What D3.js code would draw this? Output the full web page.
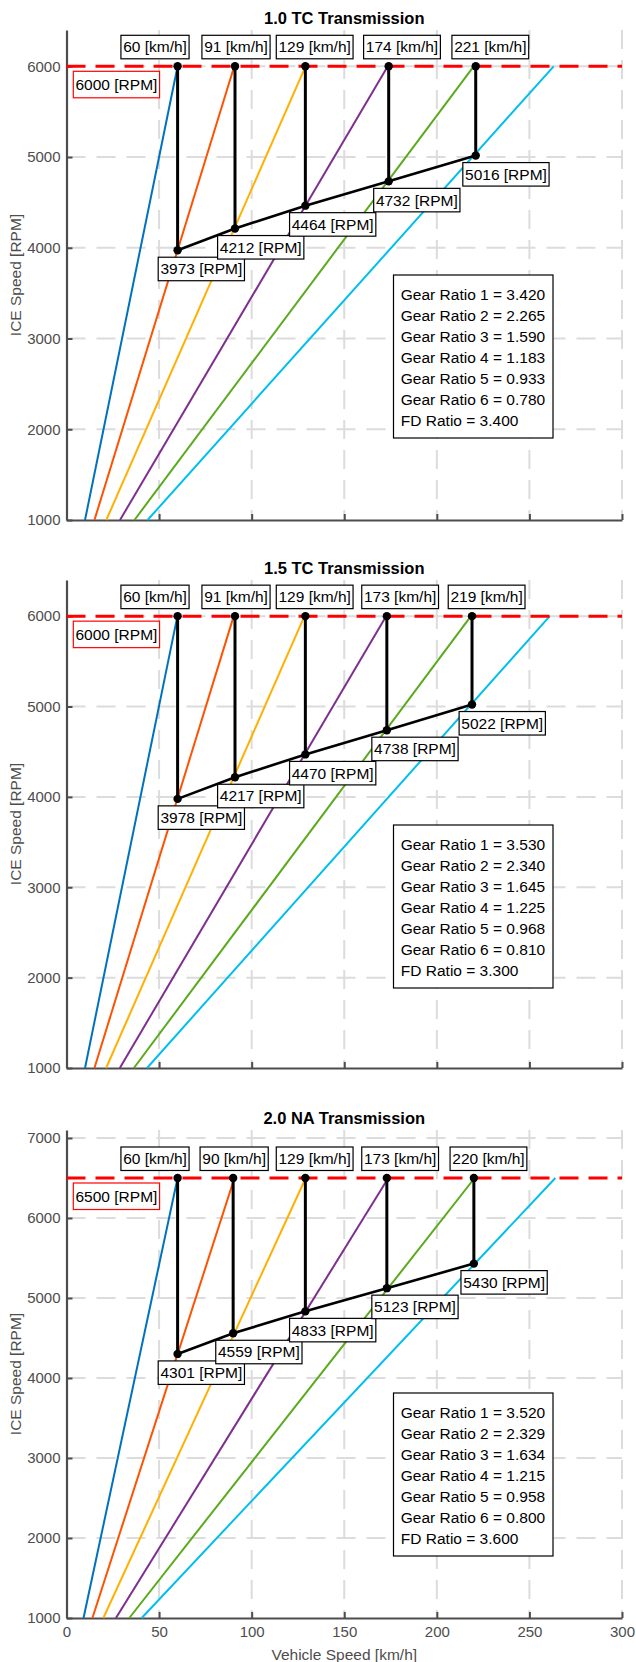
<!DOCTYPE html>
<html>
<head>
<meta charset="utf-8">
<script src="https://cdn.jsdelivr.net/npm/d3@7"></script>
<style>
  body { margin: 0; background: #fff; }
  svg { display: block; }
  text { font-family: "Liberation Sans", Arial, Helvetica, sans-serif; }
</style>
</head>
<body>
<script>
// ---- data ----
var speedTicks = [0, 50, 100, 150, 200, 250, 300];
var gearColors = ["#0072BD", "#FF5200", "#FFB000", "#7E2F8E", "#5AAA1C", "#00BFEE"];

// 1.0 TC
var tc10Start = [10.0, 15.1, 21.5, 28.9, 36.7, 43.8];     // km/h at 1000 rpm
var tc10End = [60.0, 90.6, 129.1, 173.5, 219.9, 263.1];   // km/h at max rpm
var tc10Shift = [60, 91, 129, 174, 221];
var tc10Drop = [3973, 4212, 4464, 4732, 5016];
var tc10Ratios = ["3.420", "2.265", "1.590", "1.183", "0.933", "0.780"];
var tc10Fd = "3.400";
var tc10Ticks = [1000, 2000, 3000, 4000, 5000, 6000];

// 1.5 TC
var tc15Start = [10.0, 15.1, 21.4, 28.8, 36.4, 43.5];
var tc15End = [59.9, 90.3, 128.5, 172.6, 218.4, 261.0];
var tc15Shift = [60, 91, 129, 173, 219];
var tc15Drop = [3978, 4217, 4470, 4738, 5022];
var tc15Ratios = ["3.530", "2.340", "1.645", "1.225", "0.968", "0.810"];
var tc15Fd = "3.300";
var tc15Ticks = [1000, 2000, 3000, 4000, 5000, 6000];

// 2.0 NA
var na20Start = [9.2, 14.0, 19.9, 26.7, 33.9, 40.6];
var na20End = [60.0, 90.7, 129.2, 173.8, 220.4, 264.0];
var na20Shift = [60, 90, 129, 173, 220];
var na20Drop = [4301, 4559, 4833, 5123, 5430];
var na20Ratios = ["3.520", "2.329", "1.634", "1.215", "0.958", "0.800"];
var na20Fd = "3.600";
var na20Ticks = [1000, 2000, 3000, 4000, 5000, 6000, 7000];

// ---- layout ----
var W = 636, H = 1662, fs = 15.5;
var topNudge = [-22.6, 1, 9.3, 13.3, 14.6];     // km/h label centre vs marker, px
var dropNudge = [-19.4, -17.4, -15.8, -15, -12.9]; // rpm label left edge vs marker, px

var svg = d3.select("body").append("svg")
    .attr("width", W)
    .attr("height", H);

var x = d3.scaleLinear().domain([0, 300]).range([66.5, 622]);

function boxLabel(g, str, cx, left, top, h, border) {
    var lab = g.append("g");
    var rect = lab.append("rect");
    var t = lab.append("text")
        .attr("font-size", fs)
        .attr("fill", "#000")
        .attr("y", top + h / 2 + fs * 0.35)
        .text(str);
    var w = t.node().getComputedTextLength() + 4.4;
    var lx = (left != null) ? left : cx - w / 2;
    t.attr("x", lx + 2.2);
    rect.attr("x", lx).attr("y", top).attr("width", w).attr("height", h)
        .attr("fill", "#fff").attr("stroke", border).attr("stroke-width", 1.2);
}

function panel(p) {
    var y = d3.scaleLinear().domain(p.yDomain).range([p.bottom, p.top]);
    var g = svg.append("g");

    // grid
    g.append("g").selectAll("line")
        .data(speedTicks.slice(1))
      .enter().append("line")
        .attr("x1", function(d) { return x(d); })
        .attr("x2", function(d) { return x(d); })
        .attr("y1", p.top).attr("y2", p.bottom)
        .attr("stroke", "#dcdcdc").attr("stroke-width", 2)
        .attr("stroke-dasharray", "19,11");
    g.append("g").selectAll("line")
        .data(p.ticks.slice(1))
      .enter().append("line")
        .attr("x1", x(0)).attr("x2", x(300))
        .attr("y1", function(d) { return y(d); })
        .attr("y2", function(d) { return y(d); })
        .attr("stroke", "#dcdcdc").attr("stroke-width", 2)
        .attr("stroke-dasharray", "19,11");

    // axes
    var ya = g.append("g")
        .attr("transform", "translate(" + x(0) + ",0)")
        .call(d3.axisLeft(y).tickValues(p.ticks).tickSizeInner(-6).tickSizeOuter(0)
            .tickPadding(6).tickFormat(d3.format("d")));
    var xa = g.append("g")
        .attr("transform", "translate(0," + p.bottom + ")")
        .call(d3.axisBottom(x).tickValues(speedTicks).tickSizeInner(-6).tickSizeOuter(0)
            .tickPadding(8.5).tickFormat(p.showX ? d3.format("d") : function() { return ""; }));
    [ya, xa].forEach(function(a) {
        a.select(".domain").attr("stroke", "#4d4d4d").attr("stroke-width", 2.2);
        a.selectAll(".tick line").attr("stroke", "#4d4d4d").attr("stroke-width", 2);
        a.selectAll(".tick text").attr("font-size", 15).attr("fill", "#4d4d4d")
            .attr("font-family", "Liberation Sans, Arial, sans-serif");
    });

    // gear lines
    g.append("g").selectAll("line")
        .data(p.start)
      .enter().append("line")
        .attr("x1", function(d) { return x(d); })
        .attr("y1", y(1000))
        .attr("x2", function(d, i) { return x(p.end[i]); })
        .attr("y2", y(p.maxRpm))
        .attr("stroke", function(d, i) { return gearColors[i]; })
        .attr("stroke-width", 2);

    // rpm limit
    g.append("line")
        .attr("x1", x(0)).attr("x2", x(300))
        .attr("y1", y(p.maxRpm)).attr("y2", y(p.maxRpm))
        .attr("stroke", "#ff0000").attr("stroke-width", 3)
        .attr("stroke-dasharray", "19,10");

    // shift path
    g.append("g").selectAll("line")
        .data(p.shift)
      .enter().append("line")
        .attr("x1", function(d) { return x(d); })
        .attr("x2", function(d) { return x(d); })
        .attr("y1", y(p.maxRpm))
        .attr("y2", function(d, i) { return y(p.drop[i]); })
        .attr("stroke", "#000").attr("stroke-width", 3);
    g.append("path")
        .datum(p.shift)
        .attr("fill", "none").attr("stroke", "#000").attr("stroke-width", 2.6)
        .attr("d", d3.line()
            .x(function(d) { return x(d); })
            .y(function(d, i) { return y(p.drop[i]); }));
    var pts = [];
    p.shift.forEach(function(d, i) {
        pts.push([d, p.maxRpm]);
        pts.push([d, p.drop[i]]);
    });
    g.append("g").selectAll("circle")
        .data(pts)
      .enter().append("circle")
        .attr("cx", function(d) { return x(d[0]); })
        .attr("cy", function(d) { return y(d[1]); })
        .attr("r", 4.2).attr("fill", "#000");

    // labels
    p.shift.forEach(function(d, i) {
        boxLabel(g, d + " [km/h]", x(d) + topNudge[i], null, y(p.maxRpm) - 31, 23.5, "#000");
        boxLabel(g, p.drop[i] + " [RPM]", null, x(d) + dropNudge[i], y(p.drop[i]) + 7, 23.5, "#000");
    });
    boxLabel(g, p.maxRpm + " [RPM]", null, x(0) + 6.8, y(p.maxRpm) + 5, 26.5, "#ff0000");

    // ratio box
    var lines = p.ratios.map(function(r, i) { return "Gear Ratio " + (i + 1) + " = " + r; });
    lines.push("FD Ratio = " + p.fd);
    g.append("rect")
        .attr("x", 393.5).attr("y", p.boxTop).attr("width", 159.5).attr("height", 163)
        .attr("fill", "#fff").attr("stroke", "#000").attr("stroke-width", 1.2);
    g.append("g").selectAll("text")
        .data(lines)
      .enter().append("text")
        .attr("x", 400.8)
        .attr("y", function(d, i) { return p.boxTop + 20 + i * 21 + fs * 0.35; })
        .attr("font-size", fs).attr("fill", "#000")
        .text(function(d) { return d; });

    // titles
    g.append("text")
        .attr("x", (x(0) + x(300)) / 2).attr("y", p.top - 6.5)
        .attr("text-anchor", "middle").attr("font-size", 16.5).attr("font-weight", "bold")
        .attr("fill", "#000")
        .text(p.title);
    g.append("text")
        .attr("transform", "translate(21," + (p.top + p.bottom) / 2 + ") rotate(-90)")
        .attr("text-anchor", "middle").attr("font-size", fs).attr("fill", "#4d4d4d")
        .text("ICE Speed [RPM]");
    if (p.showX) {
        g.append("text")
            .attr("x", (x(0) + x(300)) / 2).attr("y", p.bottom + 42)
            .attr("text-anchor", "middle").attr("font-size", fs).attr("fill", "#4d4d4d")
            .text("Vehicle Speed [km/h]");
    }
}

panel({ title: "1.0 TC Transmission", top: 30, bottom: 520, yDomain: [1000, 6400],
    ticks: tc10Ticks, maxRpm: 6000, start: tc10Start, end: tc10End, shift: tc10Shift,
    drop: tc10Drop, ratios: tc10Ratios, fd: tc10Fd, boxTop: 275, showX: false });
panel({ title: "1.5 TC Transmission", top: 580, bottom: 1068, yDomain: [1000, 6400],
    ticks: tc15Ticks, maxRpm: 6000, start: tc15Start, end: tc15End, shift: tc15Shift,
    drop: tc15Drop, ratios: tc15Ratios, fd: tc15Fd, boxTop: 825, showX: false });
panel({ title: "2.0 NA Transmission", top: 1130, bottom: 1618, yDomain: [1000, 7100],
    ticks: na20Ticks, maxRpm: 6500, start: na20Start, end: na20End, shift: na20Shift,
    drop: na20Drop, ratios: na20Ratios, fd: na20Fd, boxTop: 1393, showX: true });
</script>
</body>
</html>
